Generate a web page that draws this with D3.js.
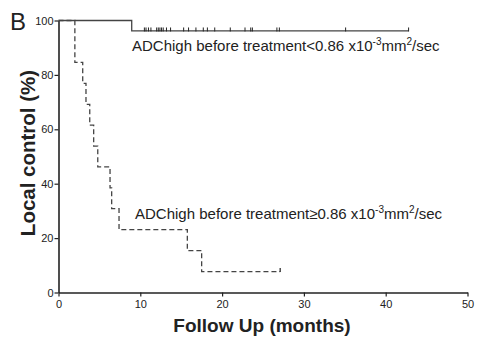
<!DOCTYPE html>
<html><head><meta charset="utf-8">
<script src="https://cdn.jsdelivr.net/npm/d3@7"></script>
<style>body{margin:0;background:#fff}svg{display:block}</style>
</head><body>
<svg id="c" width="500" height="345"></svg>
<script>
// Low group (solid): step points [months, %]
const lowSteps = [[0,100],[8.95,96.15],[42.8,96.15]];
const lowCensor = [10.5,10.7,11.0,11.3,12.0,12.2,12.4,12.6,12.8,13.2,13.7,15.3,15.9,16.8,17.7,18.2,19.1,21.0,22.8,23.5,23.7,26.7,27.0,35.1,42.8];
// High group (dashed): event times and survival after each event
const highTimes = [0,2.0,2.96,3.36,3.82,4.3,4.8,6.3,6.5,7.4,15.75,17.5,27.1];
const highSurv  = [100,84.6,76.9,69.2,61.5,53.8,46.2,38.5,30.8,23.1,15.4,7.7,7.7];
const highCensor = [27.1];
const xTicks = [0,10,20,30,40,50];
const yTicks = [0,20,40,60,80,100];

const svg = d3.select("#c");
const x = d3.scaleLinear().domain([0,50]).range([58.5,467.5]);
const y = d3.scaleLinear().domain([0,100]).range([292.5,20.5]);
const ink = "#222";
const lineCol = "#444";

// axes
const xa = svg.append("g").attr("transform","translate(0,292.5)")
  .call(d3.axisBottom(x).tickValues(xTicks).tickSize(4).tickSizeOuter(0).tickPadding(4));
const ya = svg.append("g").attr("transform","translate(58.5,0)")
  .call(d3.axisLeft(y).tickValues(yTicks).tickSize(4).tickSizeOuter(0).tickPadding(1));
[xa,ya].forEach(a=>{
  a.select(".domain").attr("stroke",ink).attr("stroke-width",1.6);
  a.selectAll(".tick line").attr("stroke",ink).attr("stroke-width",1.2);
  a.selectAll(".tick text").attr("fill",ink).style("font-family","'Liberation Sans',Arial,sans-serif").style("font-size","11px");
});

// step line helper
const stepLine = d3.line().x(d=>x(d[0])).y(d=>y(d[1])).curve(d3.curveStepAfter);

svg.append("path").datum(lowSteps).attr("d",stepLine)
  .attr("fill","none").attr("stroke",lineCol).attr("stroke-width",1.3);
svg.selectAll(".lc").data(lowCensor).enter().append("line")
  .attr("x1",d=>x(d)).attr("x2",d=>x(d)).attr("y1",y(96.15)-3.5).attr("y2",y(96.15)+0.5)
  .attr("stroke",ink).attr("stroke-width",1);

const highData = highTimes.map((t,i)=>[t,highSurv[i]]);
svg.append("path").datum(highData).attr("d",stepLine)
  .attr("fill","none").attr("stroke",lineCol).attr("stroke-width",1.3).attr("stroke-dasharray","5,3");
svg.selectAll(".hc").data(highCensor).enter().append("line")
  .attr("x1",d=>x(d)).attr("x2",d=>x(d)).attr("y1",y(7.7)-3.5).attr("y2",y(7.7)+0.5)
  .attr("stroke",ink).attr("stroke-width",1.2);

// labels
const ff = "'Liberation Sans',Arial,sans-serif";
function label(xp, yp, rel){
  const t = svg.append("text").attr("x",xp).attr("y",yp).attr("fill",ink)
    .style("font-family",ff).style("font-size","15px");
  t.append("tspan").text("ADChigh before treatment"+rel+"0.86 x10");
  t.append("tspan").attr("dy",-6).style("font-size","10px").text("-3");
  t.append("tspan").attr("dy",6).text("mm");
  t.append("tspan").attr("dy",-6).style("font-size","10px").text("2");
  t.append("tspan").attr("dy",6).text("/sec");
}
label(132,51,"<");
label(135,219,"\u2265");

svg.append("text").attr("x",10).attr("y",30).text("B").attr("fill",ink)
  .style("font-family",ff).style("font-size","24px");
svg.append("text").attr("transform","translate(35,153) rotate(-90)").attr("text-anchor","middle")
  .text("Local control (%)").attr("fill",ink)
  .style("font-family",ff).style("font-size","20.5px").style("font-weight","bold");
svg.append("text").attr("x",262).attr("y",332).attr("text-anchor","middle")
  .text("Follow Up (months)").attr("fill",ink)
  .style("font-family",ff).style("font-size","19px").style("font-weight","bold");
</script>
</body></html>
